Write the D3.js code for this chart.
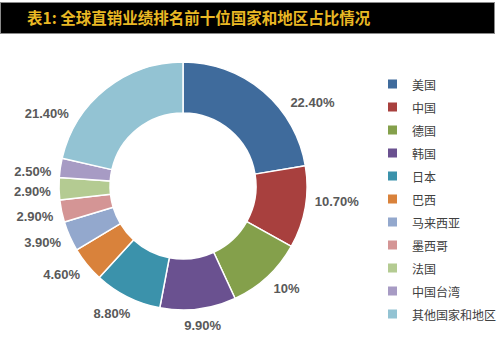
<!DOCTYPE html>
<html>
<head>
<meta charset="utf-8">
<script src="https://cdn.jsdelivr.net/npm/d3@7"></script>
<style>
  html, body { margin: 0; padding: 0; background: #ffffff; }
  svg { display: block; }
</style>
</head>
<body>
<svg id="chart" width="500" height="339"></svg>
<script>
// Share of global direct-selling revenue, top ten markets plus the rest
const regions = ["美国", "中国", "德国", "韩国", "日本", "巴西", "马来西亚", "墨西哥", "法国", "中国台湾", "其他国家和地区"];
const shares = [22.4, 10.7, 10, 9.9, 8.8, 4.6, 3.9, 2.9, 2.9, 2.5, 21.4];
const shareLabels = ["22.40%", "10.70%", "10%", "9.90%", "8.80%", "4.60%", "3.90%", "2.90%", "2.90%", "2.50%", "21.40%"];
const sliceColors = ["#3f6b9c", "#a8403e", "#84a04b", "#6a5190", "#3b92ab", "#d9823b", "#93a8cd", "#d49595", "#b4cb92", "#a79bc4", "#93c3d3"];

// angular nudge (degrees) applied to each outside label so neighbours stay clear
const labelNudge = [17, -4, -2.5, -1, 2.5, 3, 2, 0, -0.9, -2.9, -23.5];

const title = "表1: 全球直销业绩排名前十位国家和地区占比情况";

const svg = d3.select("#chart");

// title band
svg.append("rect")
  .attr("x", 0.5).attr("y", 2.5).attr("width", 494).attr("height", 31)
  .attr("fill", "#000").attr("stroke", "#8a8a8a").attr("stroke-width", 1);
svg.append("text")
  .attr("x", 27).attr("y", 24)
  .attr("font-family", "'Noto Sans CJK SC', sans-serif")
  .attr("font-weight", "bold")
  .attr("font-size", 15.5)
  .attr("fill", "#e9b824")
  .text(title);

// donut
const cx = 183, cy = 186, R = 124, r = 73;
const g = svg.append("g").attr("transform", `translate(${cx},${cy})`);

const pie = d3.pie().value(d => d).sort(null);
const arcs = pie(shares);
const arc = d3.arc().innerRadius(r).outerRadius(R);

g.selectAll("path.slice")
  .data(arcs)
  .join("path")
  .attr("class", "slice")
  .attr("d", arc)
  .attr("fill", (d, i) => sliceColors[i])
  .attr("stroke", "#ffffff")
  .attr("stroke-width", 1.5)
  .attr("stroke-linejoin", "round");

// value labels outside the ring
const labels = g.selectAll("text.val")
  .data(arcs)
  .join("text")
  .attr("class", "val")
  .attr("font-family", "'Liberation Sans', Arial, sans-serif")
  .attr("font-weight", "bold")
  .attr("font-size", 13)
  .attr("fill", "#595959")
  .attr("text-anchor", "middle")
  .attr("dominant-baseline", "central")
  .text((d, i) => shareLabels[i]);

labels.each(function (d, i) {
  const w = this.getComputedTextLength();
  const h = 12;
  const a = (d.startAngle + d.endAngle) / 2 + labelNudge[i] * Math.PI / 180;
  const s = Math.sin(a), c = Math.cos(a);
  const dist = R + 8 + Math.abs(s) * w / 2 + Math.abs(c) * h / 2;
  d3.select(this).attr("x", s * dist).attr("y", -c * dist);
});

// legend
const legend = svg.append("g").attr("transform", "translate(388,84)");
const rows = legend.selectAll("g")
  .data(regions)
  .join("g")
  .attr("transform", (d, i) => `translate(0,${i * 23})`);
rows.append("rect")
  .attr("x", 0).attr("y", -4.5).attr("width", 9).attr("height", 9)
  .attr("fill", (d, i) => sliceColors[i]);
rows.append("text")
  .attr("x", 24).attr("y", 0)
  .attr("dominant-baseline", "central")
  .attr("font-family", "'Noto Sans CJK SC', sans-serif")
  .attr("font-size", 12)
  .attr("fill", "#404040")
  .text(d => d);
</script>
</body>
</html>
